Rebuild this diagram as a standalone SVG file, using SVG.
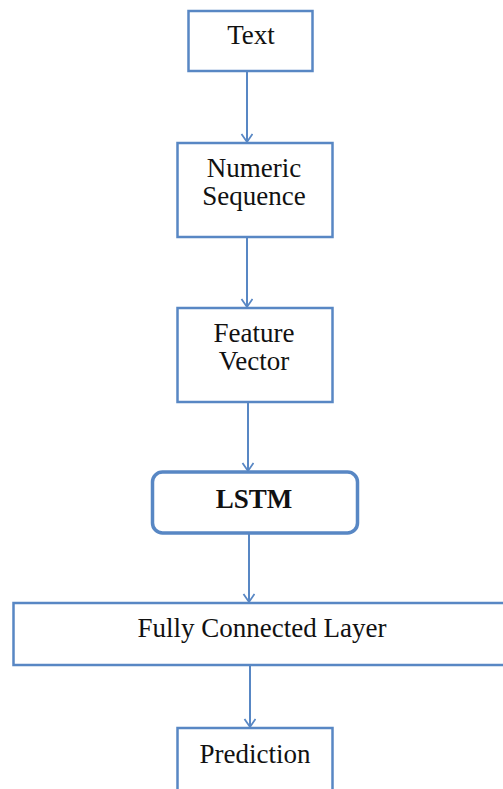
<svg xmlns="http://www.w3.org/2000/svg" width="503" height="789" viewBox="0 0 503 789">
<style>
.box{fill:#fff;stroke:#5887c4;stroke-width:2.5}
.lstm{fill:#fff;stroke:#5887c4;stroke-width:3.5}
.lbl{font-family:"Liberation Serif","Times New Roman",serif;font-size:27px;fill:#111;text-anchor:middle}
.bold{font-weight:bold}
.conn{stroke:#5887c4;stroke-width:2;fill:none}
</style>
<defs>
<marker id="arr" markerWidth="14" markerHeight="14" refX="10" refY="6" orient="auto" markerUnits="userSpaceOnUse">
<path d="M2,0.5 L10,6 L2,11.5" fill="none" stroke="#5887c4" stroke-width="1.8"/>
</marker>
</defs>
<rect width="503" height="789" fill="#fff"/>
<g id="connectors">
<line class="conn" x1="247" y1="71" x2="247" y2="142" marker-end="url(#arr)"/>
<line class="conn" x1="247" y1="238" x2="247" y2="307" marker-end="url(#arr)"/>
<line class="conn" x1="248" y1="402" x2="248" y2="471" marker-end="url(#arr)"/>
<line class="conn" x1="249" y1="534" x2="249" y2="602" marker-end="url(#arr)"/>
<line class="conn" x1="250" y1="665" x2="250" y2="727" marker-end="url(#arr)"/>
</g>
<g id="node-text">
<rect class="box" x="188.5" y="11" width="124" height="60"/>
<text class="lbl" x="251" y="44">Text</text>
</g>
<g id="node-numeric">
<rect class="box" x="177.5" y="143" width="155" height="94"/>
<text class="lbl" x="254" y="177">Numeric</text>
<text class="lbl" x="254" y="205">Sequence</text>
</g>
<g id="node-feature">
<rect class="box" x="177.5" y="308" width="155" height="94"/>
<text class="lbl" x="254" y="342">Feature</text>
<text class="lbl" x="254" y="370">Vector</text>
</g>
<g id="node-lstm">
<rect class="lstm" x="152.5" y="472" width="205" height="61" rx="10"/>
<text class="lbl bold" x="254" y="508">LSTM</text>
</g>
<g id="node-fc">
<rect class="box" x="13.5" y="603" width="500" height="62"/>
<text class="lbl" x="262" y="637">Fully Connected Layer</text>
</g>
<g id="node-prediction">
<rect class="box" x="177.5" y="728" width="155" height="80"/>
<text class="lbl" x="255" y="763">Prediction</text>
</g>
</svg>
